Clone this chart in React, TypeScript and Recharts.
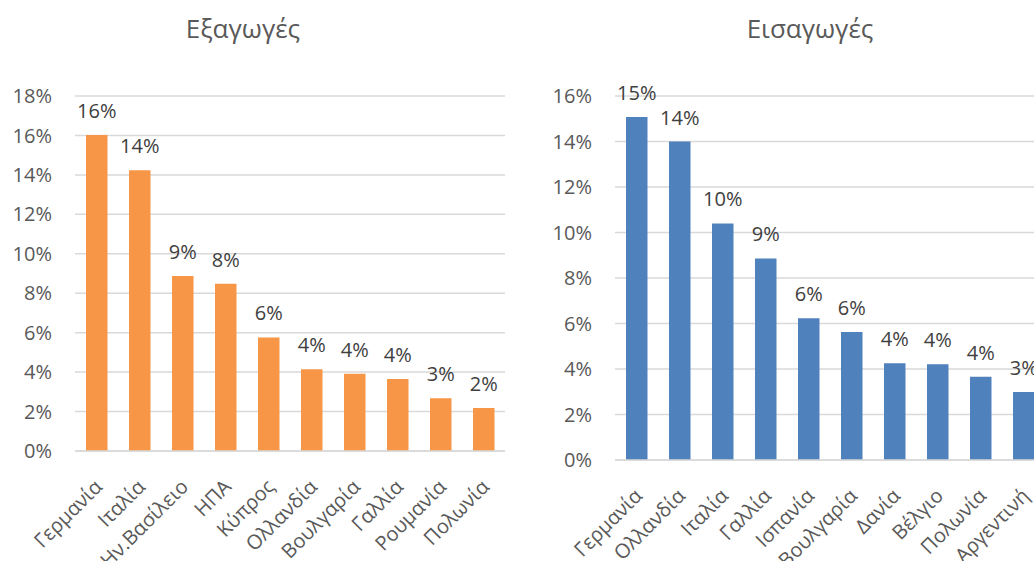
import { BarChart, Bar, XAxis, YAxis, CartesianGrid } from 'recharts';

const FONT = '"Open Sans", "Noto Sans", sans-serif';

// Εξαγωγές (%)
const exportCountries = ['Γερμανία', 'Ιταλία', 'Ην.Βασίλειο', 'ΗΠΑ', 'Κύπρος', 'Ολλανδία', 'Βουλγαρία', 'Γαλλία', 'Ρουμανία', 'Πολωνία'];
const exportValues = [16.02, 14.23, 8.87, 8.48, 5.76, 4.14, 3.92, 3.65, 2.67, 2.18];
const exportTicks = [0, 2, 4, 6, 8, 10, 12, 14, 16, 18];

// Εισαγωγές (%)
const importCountries = ['Γερμανία', 'Ολλανδία', 'Ιταλία', 'Γαλλία', 'Ισπανία', 'Βουλγαρία', 'Δανία', 'Βέλγιο', 'Πολωνία', 'Αργεντινή'];
const importValues = [15.08, 14.0, 10.4, 8.86, 6.23, 5.63, 4.25, 4.21, 3.66, 2.99];
const importTicks = [0, 2, 4, 6, 8, 10, 12, 14, 16];

const exportData = exportCountries.map((name, i) => ({ name, value: exportValues[i] }));
const importData = importCountries.map((name, i) => ({ name, value: importValues[i] }));

const AngledTick = (props: any) => {
  const { x, y, payload } = props;
  const ax = x + 7;
  const ay = y + 37;
  return (
    <text
      x={ax}
      y={ay}
      transform={`rotate(-45, ${ax}, ${ay})`}
      textAnchor="end"
      fill="#595959"
      fontSize={20}
      fontFamily={FONT}
    >
      {payload.value}
    </text>
  );
};

// value label above each bar, rounded like Excel shows it
const TopLabel = (props: any) => {
  const { x, y, width, value } = props;
  return (
    <text
      x={x + width / 2}
      y={y - 17}
      textAnchor="middle"
      fill="#404040"
      fontSize={20}
      fontFamily={FONT}
    >
      {`${Math.round(Number(value))}%`}
    </text>
  );
};

function Panel({ data, ticks, color, yAxisWidth, width, bottom }: any) {
  return (
    <BarChart
      width={width}
      height={561}
      data={data}
      margin={{ top: 96, right: width - yAxisWidth - 430, left: 0, bottom: 0 }}
    >
      <CartesianGrid vertical={false} stroke="#d9d9d9" strokeWidth={1.5} />
      <XAxis
        dataKey="name"
        interval={0}
        height={bottom}
        tickLine={false}
        tickSize={0}
        tickMargin={0}
        axisLine={{ stroke: '#d9d9d9', strokeWidth: 1.5 }}
        tick={<AngledTick />}
      />
      <YAxis
        type="number"
        width={yAxisWidth}
        domain={[0, ticks[ticks.length - 1]]}
        ticks={ticks}
        axisLine={false}
        tickLine={false}
        tickSize={0}
        tickMargin={23}
        tickFormatter={(v: number) => `${v}%`}
        tick={{ fill: '#595959', fontSize: 20, fontFamily: FONT }}
      />
      <Bar dataKey="value" fill={color} barSize={21.5} isAnimationActive={false} label={<TopLabel />} />
    </BarChart>
  );
}

const titleStyle: any = {
  position: 'absolute',
  top: 15,
  width: 300,
  textAlign: 'center',
  fontFamily: FONT,
  fontSize: 26,
  lineHeight: '26px',
  color: '#595959',
};

export default function App() {
  return (
    <div style={{ position: 'fixed', left: 0, top: 0, width: 1034, height: 561, overflow: 'hidden', background: '#fff' }}>
      <div style={{ ...titleStyle, left: 243 - 150 }}>Εξαγωγές</div>
      <div style={{ ...titleStyle, left: 810 - 150 }}>Εισαγωγές</div>
      <div style={{ position: 'absolute', left: 0, top: 0 }}>
        <Panel data={exportData} ticks={exportTicks} color="#F79646" yAxisWidth={75} width={520} bottom={110} />
      </div>
      <div style={{ position: 'absolute', left: 520, top: 0 }}>
        <Panel data={importData} ticks={importTicks} color="#4F81BD" yAxisWidth={95} width={540} bottom={101} />
      </div>
    </div>
  );
}
